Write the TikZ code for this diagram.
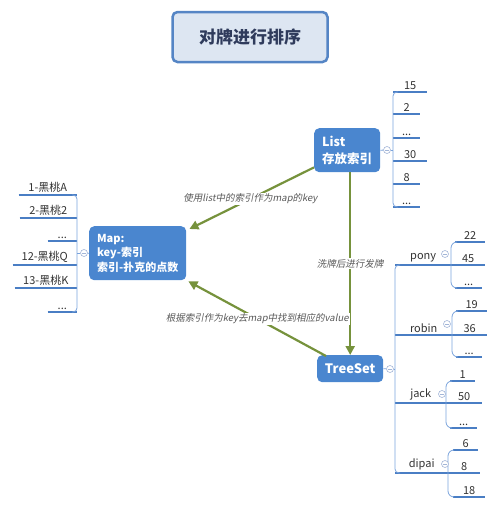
\documentclass[tikz,border=0pt]{standalone}
\usepackage{fontspec}
\setmainfont{Noto Sans CJK SC}
\newfontfamily\slantfont[FakeSlant=0.2]{Noto Sans CJK SC}
\usetikzlibrary{arrows.meta,calc}
\definecolor{boxblue}{HTML}{4A86CF}
\definecolor{titlefill}{HTML}{DDE6F2}
\definecolor{titleborder}{HTML}{5585C5}
\definecolor{titletext}{HTML}{2F3B5C}
\definecolor{ulblue}{HTML}{4A7EC4}
\definecolor{brblue}{HTML}{7AA3DC}
\definecolor{circ}{HTML}{A3B6D8}
\definecolor{olive}{HTML}{76923C}
\definecolor{leaftext}{HTML}{333333}
\definecolor{labelgray}{HTML}{595959}
\tikzset{
  titlebox/.style={draw=titleborder, line width=2.5, fill=titlefill, rounded corners=5, text=titletext, font=\bfseries\fontsize{17}{20}\selectfont},
  mainbox/.style={fill=boxblue, rounded corners=5, text=white, font=\bfseries\fontsize{12.5}{16.5}\selectfont, align=left, inner sep=0pt},
  uline/.style={draw=ulblue, line width=1.8},
  bracket/.style={draw=brblue, line width=0.8},
  leaf/.style={font=\fontsize{11}{13}\selectfont, text=leaftext, inner xsep=0pt, inner ysep=2.5pt, minimum width=#1,
    append after command={(\tikzlastnode.south west) edge[uline] (\tikzlastnode.south east)}},
  collapse/.style={circle, draw=circ, fill=white, line width=0.6, minimum size=7, inner sep=0pt,
    path picture={\draw[circ, line width=0.5] ($(path picture bounding box.center)+(-2,0)$) -- ($(path picture bounding box.center)+(2,0)$);}},
  arr/.style={draw=olive, line width=2.2, -{Triangle[length=9pt,width=9pt]}},
  lbl/.style={fill=white, inner sep=1pt, font=\slantfont\fontsize{9.5}{11}\selectfont, text=labelgray}
}
\begin{document}
\begin{tikzpicture}[x=1pt,y=-1pt]
\useasboundingbox (0,0) rectangle (500,509);

% title
\node[titlebox, minimum width=155, minimum height=50] (title) at (250,37) {对牌进行排序};

% main boxes
\node[mainbox, minimum width=66, minimum height=44, anchor=north west] (list) at (314,128) {List\\存放索引};
\node[mainbox, minimum width=97, minimum height=54, anchor=north west, font=\bfseries\fontsize{11}{14.5}\selectfont] (map) at (89,226) {Map:\\key-索引\\索引-扑克的点数};
\node[mainbox, minimum width=66, minimum height=27, anchor=north west, font=\bfseries\fontsize{13}{15}\selectfont] (treeset) at (317,355) {TreeSet};

% List leaves
\node[leaf=34, anchor=south west] (l1) at (393,92) {15};
\node[leaf=27, anchor=south west] (l2) at (393,114) {2};
\node[leaf=27, anchor=south west] (l3) at (393,138) {...};
\node[leaf=34, anchor=south west] (l4) at (393,161) {30};
\node[leaf=27, anchor=south west] (l5) at (393,184) {8};
\node[leaf=27, anchor=south west] (l6) at (393,207) {...};
\draw[bracket, rounded corners=4] ($(l1.south west)+(5,0)$) -- (l1.south west) -- (l6.south west) -- ++(5,0);
\node[collapse] (cL) at (387,150) {};
\draw[bracket] (list.east) -- (cL);
\draw[bracket] (cL) -- (cL -| l1.south west);

% Map leaves
\node[leaf=58, anchor=south east] (m1) at (77,195) {1-黑桃A};
\node[leaf=57, anchor=south east] (m2) at (77,218) {2-黑桃2};
\node[leaf=29, anchor=south east] (m3) at (77,241) {...};
\node[leaf=64, anchor=south east] (m4) at (77,265) {12-黑桃Q};
\node[leaf=62, anchor=south east] (m5) at (77,288) {13-黑桃K};
\node[leaf=29, anchor=south east] (m6) at (77,312) {...};
\draw[bracket, rounded corners=4] ($(m1.south east)+(-5,0)$) -- (m1.south east) -- (m6.south east) -- ++(-5,0);
\node[collapse] (cM) at (84,253) {};
\draw[bracket] (map.west) -- (cM);
\draw[bracket] (cM) -- (cM -| m1.south east);

% TreeSet children
\node[leaf=56, anchor=south west] (t1) at (395,265) {pony};
\node[leaf=57, anchor=south west] (t2) at (395,335) {robin};
\node[leaf=51, anchor=south west] (t3) at (395,403) {jack};
\node[leaf=53, anchor=south west] (t4) at (395,473) {dipai};
\draw[bracket, rounded corners=4] ($(t1.south west)+(5,0)$) -- (t1.south west) -- (t4.south west) -- ++(5,0);
\node[collapse] (cT) at (390,369) {};
\draw[bracket] (treeset.east) -- (cT);
\draw[bracket] (cT) -- (cT -| t1.south west);

% pony
\node[leaf=30, anchor=south west] (p1) at (455,242) {22};
\node[leaf=34, anchor=south west] (p2) at (451,265) {45};
\node[leaf=27, anchor=south west] (p3) at (455,288) {...};
\draw[bracket, rounded corners=6] (p1.south west) -- (p1.south west -| p2.south west) -- (p3.south west -| p2.south west) -- (p3.south west);
\node[collapse] (cP) at (445,254) {};
% robin
\node[leaf=31, anchor=south west] (r1) at (456,311) {19};
\node[leaf=35, anchor=south west] (r2) at (452,335) {36};
\node[leaf=26, anchor=south west] (r3) at (456,357) {...};
\draw[bracket, rounded corners=6] (r1.south west) -- (r1.south west -| r2.south west) -- (r3.south west -| r2.south west) -- (r3.south west);
\node[collapse] (cR) at (447,324) {};
% jack
\node[leaf=25, anchor=south west] (j1) at (450,381) {1};
\node[leaf=36, anchor=south west] (j2) at (446,403) {50};
\node[leaf=27, anchor=south west] (j3) at (450,428) {...};
\draw[bracket, rounded corners=6] (j1.south west) -- (j1.south west -| j2.south west) -- (j3.south west -| j2.south west) -- (j3.south west);
\node[collapse] (cJ) at (442,394) {};
% dipai
\node[leaf=25, anchor=south west] (d1) at (453,450) {6};
\node[leaf=32, anchor=south west] (d2) at (448,473) {8};
\node[leaf=32, anchor=south west] (d3) at (453,497) {18};
\draw[bracket, rounded corners=6] (d1.south west) -- (d1.south west -| d2.south west) -- (d3.south west -| d2.south west) -- (d3.south west);
\node[collapse] (cD) at (445,464) {};

% arrows
\draw[arr] ($(list.south west)+(0,-5)$) -- node[lbl, pos=0.51] {使用list中的索引作为map的key} ($(map.north east)+(3,3)$);
\draw[arr] (treeset.north |- list.south) -- node[lbl, pos=0.5] {洗牌后进行发牌} (treeset.north);
\draw[arr] ($(treeset.north west)+(9,1)$) -- node[lbl, pos=0.5] {根据索引作为key去map中找到相应的value} ($(map.south east)+(2,1)$);
\end{tikzpicture}
\end{document}
